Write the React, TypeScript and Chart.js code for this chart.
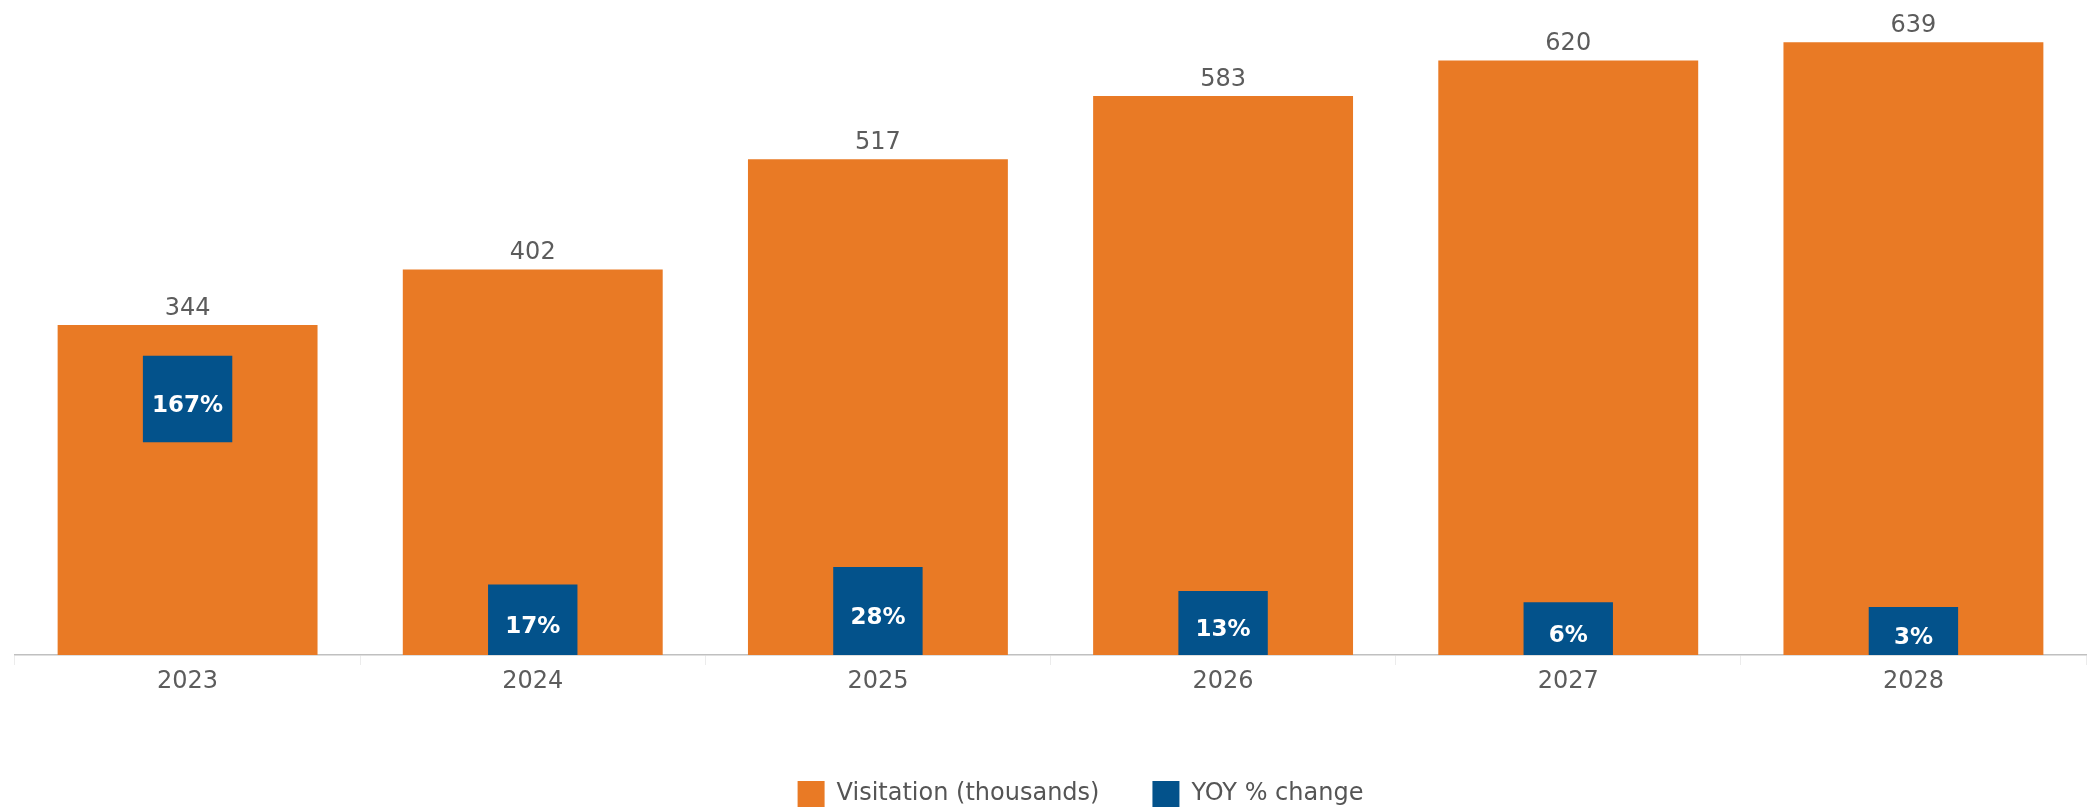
import React, { useEffect, useRef } from "react";
import { Chart, registerables } from "chart.js";

Chart.register(...registerables);

const years = ["2023", "2024", "2025", "2026", "2027", "2028"];
const visitation = [344, 402, 517, 583, 620, 639];
const yoyChange = [167, 17, 28, 13, 6, 3];
// Blue markers on the secondary (%) axis; the 2023 marker floats inside its bar
const yoyMarkers: (number | [number, number])[] = [[106, 160], 17, 28, 13, 6, 3];
const seriesNames = ["Visitation (thousands)", "YOY % change"];

const ORANGE = "#E97A25";
const BLUE = "#03528B";
const TEXT = "#5c5c5c";
const FONT = "DejaVu Sans";

const labelPlugin = {
  id: "barLabels",
  afterLayout(chart: any) {
    // legend in the reference sits slightly right of centre
    const lg = chart.legend;
    if (lg) {
      lg.left += 30;
      lg.right += 30;
    }
  },
  afterDatasetsDraw(chart: any) {
    const ctx = chart.ctx;
    ctx.save();
    ctx.textAlign = "center";
    const m0 = chart.getDatasetMeta(0);
    ctx.font = `24px "${FONT}"`;
    ctx.fillStyle = TEXT;
    ctx.textBaseline = "alphabetic";
    m0.data.forEach((bar: any, i: number) => {
      ctx.fillText(String(visitation[i]), bar.x, bar.y - 10);
    });
    const m1 = chart.getDatasetMeta(1);
    ctx.font = `bold 23px "${FONT}"`;
    ctx.fillStyle = "#ffffff";
    ctx.textBaseline = "middle";
    m1.data.forEach((bar: any, i: number) => {
      ctx.fillText(yoyChange[i] + "%", bar.x, (bar.y + bar.base) / 2 + 7);
    });
    ctx.restore();
  },
};

export default function App() {
  const ref = useRef<HTMLCanvasElement | null>(null);

  useEffect(() => {
    if (!ref.current) return;
    const chart = new Chart(ref.current, {
      type: "bar",
      data: {
        labels: years,
        datasets: [
          {
            label: seriesNames[0],
            data: visitation,
            backgroundColor: ORANGE,
            barPercentage: 0.753,
            categoryPercentage: 1,
            grouped: false,
            order: 1,
            yAxisID: "y",
          } as any,
          {
            label: seriesNames[1],
            data: yoyMarkers as any,
            backgroundColor: BLUE,
            barPercentage: 0.259,
            categoryPercentage: 1,
            grouped: false,
            order: 0,
            yAxisID: "y2",
            base: -27,
          } as any,
        ],
      },
      options: {
        responsive: false,
        animation: false,
        devicePixelRatio: 1,
        layout: { padding: { left: 15, right: 1, top: 0, bottom: 0 } },
        plugins: {
          tooltip: { enabled: false },
          legend: {
            position: "bottom",
            labels: {
              boxWidth: 27,
              boxHeight: 26,
              padding: 53,
              color: "#555555",
              font: { family: FONT, size: 24 },
              sort: (a: any, b: any) => a.datasetIndex - b.datasetIndex,
            },
          },
        },
        scales: {
          x: {
            offset: true,
            grid: {
              offset: true,
              drawOnChartArea: false,
              drawTicks: true,
              tickLength: 10,
              color: "#ececec",
            },
            border: { display: true, color: "#c0c0c0", dash: [3, 3], width: 1.5 },
            ticks: { color: TEXT, font: { family: FONT, size: 24 }, padding: 2 },
            afterFit: (s: any) => {
              s.height = 73;
            },
          },
          y: { display: false, min: 0, max: 683 },
          y2: { display: false, min: -27, max: 382.4 },
        },
      } as any,
      plugins: [labelPlugin],
    });
    return () => chart.destroy();
  }, []);

  return (
    <div style={{ position: "fixed", left: 0, top: 0, width: 2087, height: 810, overflow: "hidden", background: "#fff" }}>
      <canvas ref={ref} width={2087} height={817} style={{ display: "block" }} />
    </div>
  );
}
